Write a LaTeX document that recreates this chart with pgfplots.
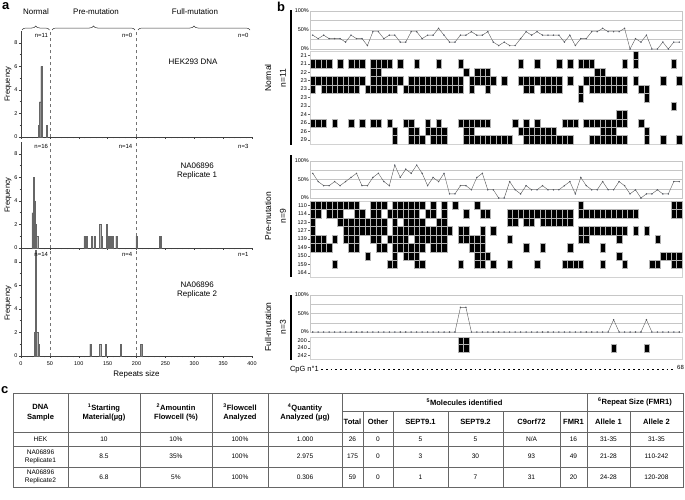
\documentclass[border=0pt]{standalone}
\usepackage{fontspec}
\setmainfont{Liberation Sans}
\usepackage{pgfplots}
\pgfplotsset{compat=1.18}
\usetikzlibrary{decorations.pathreplacing}
\newcommand{\fs}[2]{\fontsize{#1}{#2}\selectfont}
\definecolor{dotblue}{RGB}{70,110,200}
\pgfplotsset{
  histo/.style={
    scale only axis, anchor=north west,
    width=231bp, height=106bp,
    xmin=0, xmax=400, ymin=0, ymax=9,
    axis x line=bottom, axis y line=left,
    axis line style={-, black!75, line width=0.5bp},
    xtick={0,50,...,400}, minor x tick num=4,
    ytick={0,2,4,6,8}, yticklabels={0,2,4,6,8}, minor y tick num=1,
    tick align=outside, major tick length=2bp, minor tick length=1.3bp,
    tick style={black!75, line width=0.4bp},
    tick label style={font=\fs{5.5}{6}},
    yticklabel style={inner xsep=1.5bp},
    every axis y label/.style={at={(axis description cs:-0.056,0.5)}, rotate=90, anchor=center, font=\fs{7.5}{9}},
    ylabel={Frequency},
    clip=false,
  },
  bars/.style={ybar, bar width=2, fill=gray!85, draw=black!60, line width=0.25bp},
  vdash/.style={dashed, black!55, line width=0.45bp},
  meth/.style={
    scale only axis, anchor=north west,
    width=372bp, xmin=-0.5, xmax=67.5, ymin=0, ymax=100,
    axis line style={gray!45, line width=0.4bp},
    xtick=\empty, ytick={0,25,50,75,100}, yticklabels={0\%,,50\%,,100\%},
    ymajorgrids, grid style={gray!45, line width=0.4bp},
    major tick length=0pt,
    tick label style={font=\fs{5.5}{6}},
    yticklabel style={inner xsep=1bp},
  },
  methline/.style={black!65, line width=0.4bp, mark=*, mark size=0.5bp, mark options={draw=none, fill=dotblue}},
  heat/.style={
    scale only axis, anchor=north west,
    width=372bp, xmin=-0.5, xmax=67.5, y dir=reverse,
    axis line style={gray!35, line width=0.4bp},
    xtick=\empty, ytick pos=left,
    tick align=outside, major tick length=2bp, tick style={black!60, line width=0.3bp},
    tick label style={font=\fs{5.5}{6}},
    yticklabel style={inner xsep=1bp},
  },
  cell/.style={only marks, mark=square*, mark size=2.735bp, mark options={fill=black, draw=gray!60, line width=0.15bp, yscale=#1}},
}
\begin{document}
\begin{tikzpicture}
\useasboundingbox (0,0) rectangle (685bp,-500bp);

% ---------------- panel a ----------------
\begin{axis}[histo, at={(21bp,-31bp)}, xticklabels={}]
\addplot[vdash] coordinates {(50,0) (50,9)};
\addplot[vdash] coordinates {(200,0) (200,9)};
\addplot[bars] coordinates {(31,1) (33,3) (35,6) (44.5,1)};
\node[anchor=north east, font=\fs{6}{7}, inner sep=0] at (axis cs:47,8.85) {n=11};
\node[anchor=north east, font=\fs{6}{7}, inner sep=0] at (axis cs:193,8.85) {n=0};
\node[anchor=north east, font=\fs{6}{7}, inner sep=0] at (axis cs:394,8.85) {n=0};
\node[font=\fs{8}{9.5}] at (axis cs:298,6.4) {HEK293 DNA};
\end{axis}

\begin{axis}[histo, at={(21bp,-142bp)}, xticklabels={}]
\addplot[vdash] coordinates {(50,0) (50,9)};
\addplot[vdash] coordinates {(200,0) (200,9)};
\addplot[bars] coordinates {(20,3) (22,6) (24,4) (26,2) (28,1)};
\addplot[bars] coordinates {(110,1) (114,1) (123,1) (127,1) (137,2) (140,1) (149,2) (152,1) (155,1) (158,1) (165,1)};
\addplot[bars] coordinates {(200,1) (240,1) (242,1)};
\node[anchor=north east, font=\fs{6}{7}, inner sep=0] at (axis cs:47,8.85) {n=16};
\node[anchor=north east, font=\fs{6}{7}, inner sep=0] at (axis cs:193,8.85) {n=14};
\node[anchor=north east, font=\fs{6}{7}, inner sep=0] at (axis cs:394,8.85) {n=3};
\node[font=\fs{8}{9.5}, align=center] at (axis cs:305,6.55) {NA06896\\Replicate 1};
\end{axis}

\begin{axis}[histo, at={(21bp,-250bp)},
  xticklabels={0,50,100,150,200,250,300,350,400},
  xlabel={Repeats size},
  every axis x label/.style={at={(axis description cs:0.5,-0.17)}, anchor=center, font=\fs{8}{9}}]
\addplot[vdash] coordinates {(50,0) (50,9)};
\addplot[vdash] coordinates {(200,0) (200,9)};
\addplot[bars] coordinates {(24,2) (26,9) (28,2) (31,1)};
\addplot[bars] coordinates {(120,1) (137,1) (147,1) (173,1)};
\addplot[bars] coordinates {(208,1)};
\node[anchor=north east, font=\fs{6}{7}, inner sep=0] at (axis cs:47,8.85) {n=14};
\node[anchor=north east, font=\fs{6}{7}, inner sep=0] at (axis cs:193,8.85) {n=4};
\node[anchor=north east, font=\fs{6}{7}, inner sep=0] at (axis cs:394,8.85) {n=1};
\node[font=\fs{8}{9.5}, align=center] at (axis cs:305,5.6) {NA06896\\Replicate 2};
\end{axis}

% braces and headers
\draw[decorate, decoration={brace, amplitude=4bp}, black!80, line width=0.5bp] (22bp,-30bp) -- (49.5bp,-30bp);
\draw[decorate, decoration={brace, amplitude=4bp}, black!80, line width=0.5bp] (52bp,-30bp) -- (135bp,-30bp);
\draw[decorate, decoration={brace, amplitude=4bp}, black!80, line width=0.5bp] (138bp,-30bp) -- (250bp,-30bp);

% ---------------- panel b ----------------
\begin{axis}[meth, at={(310bp,-11bp)}, height=38bp]
\addplot[methline] coordinates {(0,36.4)(1,27.3)(2,36.4)(3,27.3)(4,27.3)(5,27.3)(6,18.2)(7,36.4)(8,27.3)(9,27.3)(10,9.1)(11,45.5)(12,45.5)(13,27.3)(14,36.4)(15,36.4)(16,18.2)(17,18.2)(18,45.5)(19,45.5)(20,27.3)(21,36.4)(22,36.4)(23,54.5)(24,36.4)(25,18.2)(26,18.2)(27,36.4)(28,36.4)(29,45.5)(30,36.4)(31,36.4)(32,45.5)(33,18.2)(34,9.1)(35,18.2)(36,9.1)(37,9.1)(38,27.3)(39,45.5)(40,36.4)(41,45.5)(42,36.4)(43,36.4)(44,36.4)(45,36.4)(46,18.2)(47,36.4)(48,9.1)(49,27.3)(50,27.3)(51,45.5)(52,45.5)(53,54.5)(54,45.5)(55,45.5)(56,45.5)(57,54.5)(58,0)(59,27.3)(60,18.2)(61,36.4)(62,0)(63,0)(64,18.2)(65,0)(66,18.2)(67,18.2)};
\end{axis}

\begin{axis}[heat, at={(310bp,-51bp)}, height=93bp, ymin=-0.5, ymax=10.5,
  ytick={0,...,10}, yticklabels={21,21,22,23,23,23,23,24,26,26,29}]
\addplot[cell=1.545] coordinates {
(59,0)
(0,1)(1,1)(2,1)(3,1)(5,1)(7,1)(8,1)(9,1)(11,1)(12,1)(13,1)(14,1)(16,1)(19,1)(23,1)(27,1)(38,1)(41,1)(45,1)(47,1)(49,1)(50,1)(51,1)(57,1)(59,1)(66,1)
(11,2)(12,2)(28,2)(30,2)(31,2)(32,2)(52,2)(53,2)
(0,3)(1,3)(2,3)(3,3)(4,3)(5,3)(6,3)(7,3)(8,3)(9,3)(11,3)(12,3)(13,3)(14,3)(15,3)(16,3)(18,3)(19,3)(20,3)(21,3)(22,3)(23,3)(24,3)(25,3)(26,3)(27,3)(29,3)(30,3)(31,3)(32,3)(33,3)(35,3)(38,3)(39,3)(40,3)(41,3)(42,3)(43,3)(44,3)(45,3)(47,3)(50,3)(51,3)(52,3)(53,3)(54,3)(55,3)(56,3)(57,3)(59,3)(64,3)(67,3)
(0,4)(2,4)(3,4)(4,4)(5,4)(6,4)(7,4)(8,4)(10,4)(11,4)(12,4)(13,4)(14,4)(15,4)(17,4)(18,4)(19,4)(20,4)(21,4)(22,4)(23,4)(24,4)(25,4)(26,4)(27,4)(29,4)(32,4)(39,4)(40,4)(42,4)(43,4)(44,4)(45,4)(49,4)(51,4)(52,4)(53,4)(54,4)(55,4)(56,4)(57,4)(60,4)(61,4)
(49,5)(61,5)
(66,6)
(56,7)(57,7)
(0,8)(1,8)(2,8)(4,8)(7,8)(9,8)(11,8)(12,8)(14,8)(17,8)(18,8)(21,8)(23,8)(27,8)(28,8)(29,8)(30,8)(31,8)(32,8)(37,8)(39,8)(41,8)(46,8)(47,8)(48,8)(50,8)(51,8)(52,8)(53,8)(54,8)(55,8)(56,8)(57,8)(60,8)
(15,9)(18,9)(19,9)(21,9)(22,9)(23,9)(24,9)(28,9)(29,9)(38,9)(39,9)(40,9)(41,9)(42,9)(43,9)(44,9)(53,9)(54,9)(55,9)(61,9)
(15,10)(18,10)(19,10)(20,10)(22,10)(23,10)(24,10)(28,10)(29,10)(30,10)(31,10)(32,10)(33,10)(34,10)(35,10)(36,10)(39,10)(40,10)(41,10)(42,10)(43,10)(44,10)(45,10)(46,10)(47,10)(51,10)(52,10)(53,10)(54,10)(55,10)(56,10)(57,10)(61,10)(64,10)(67,10)
};
\end{axis}

\begin{axis}[meth, at={(310bp,-161bp)}, height=37bp]
\addplot[methline] coordinates {(0,66.7)(1,44.4)(2,33.3)(3,33.3)(4,44.4)(5,33.3)(6,44.4)(7,55.6)(8,66.7)(9,33.3)(10,33.3)(11,55.6)(12,66.7)(13,44.4)(14,33.3)(15,88.9)(16,55.6)(17,77.8)(18,66.7)(19,88.9)(20,66.7)(21,33.3)(22,55.6)(23,44.4)(24,66.7)(25,11.1)(26,11.1)(27,33.3)(28,33.3)(29,22.2)(30,55.6)(31,66.7)(32,22.2)(33,22.2)(34,0)(35,0)(36,44.4)(37,22.2)(38,11.1)(39,33.3)(40,22.2)(41,22.2)(42,33.3)(43,22.2)(44,22.2)(45,22.2)(46,33.3)(47,44.4)(48,11.1)(49,55.6)(50,33.3)(51,22.2)(52,22.2)(53,44.4)(54,22.2)(55,22.2)(56,44.4)(57,33.3)(58,11.1)(59,22.2)(60,0)(61,11.1)(62,11.1)(63,22.2)(64,11.1)(65,11.1)(66,44.4)(67,44.4)};
\end{axis}

\begin{axis}[heat, at={(310bp,-201bp)}, height=76bp, ymin=-0.5, ymax=8.5,
  ytick={0,...,8}, yticklabels={110,114,123,127,139,149,150,159,164}]
\addplot[cell=1.544] coordinates {
(0,0)(1,0)(2,0)(3,0)(4,0)(5,0)(6,0)(7,0)(8,0)(11,0)(12,0)(13,0)(15,0)(16,0)(17,0)(18,0)(19,0)(20,0)(22,0)(24,0)(26,0)(30,0)(49,0)(66,0)(67,0)
(0,1)(1,1)(3,1)(4,1)(5,1)(8,1)(9,1)(11,1)(12,1)(14,1)(15,1)(16,1)(17,1)(18,1)(19,1)(21,1)(22,1)(24,1)(28,1)(31,1)(32,1)(36,1)(37,1)(38,1)(39,1)(40,1)(41,1)(42,1)(43,1)(44,1)(45,1)(46,1)(47,1)(49,1)(50,1)(51,1)(52,1)(53,1)(54,1)(55,1)(56,1)(57,1)(58,1)(59,1)(66,1)(67,1)
(0,2)(5,2)(6,2)(7,2)(8,2)(9,2)(10,2)(11,2)(12,2)(13,2)(15,2)(17,2)(18,2)(19,2)(20,2)(23,2)(24,2)(36,2)(37,2)(39,2)(40,2)(42,2)(43,2)(44,2)(45,2)(46,2)(47,2)
(0,3)(6,3)(7,3)(8,3)(9,3)(10,3)(11,3)(12,3)(13,3)(15,3)(16,3)(17,3)(18,3)(19,3)(20,3)(21,3)(22,3)(23,3)(24,3)(25,3)(27,3)(28,3)(31,3)(33,3)(49,3)(50,3)(51,3)(52,3)(53,3)(54,3)(55,3)(56,3)(57,3)(59,3)(61,3)
(0,4)(1,4)(2,4)(4,4)(6,4)(7,4)(8,4)(11,4)(12,4)(14,4)(15,4)(16,4)(17,4)(19,4)(20,4)(21,4)(22,4)(23,4)(24,4)(27,4)(28,4)(29,4)(30,4)(31,4)(36,4)(49,4)(50,4)(56,4)(63,4)
(0,5)(1,5)(2,5)(3,5)(7,5)(8,5)(12,5)(13,5)(15,5)(16,5)(17,5)(18,5)(19,5)(20,5)(22,5)(23,5)(24,5)(29,5)(30,5)(31,5)(39,5)(42,5)(47,5)(53,5)
(10,6)(15,6)(17,6)(18,6)(19,6)(30,6)(31,6)(32,6)(56,6)(64,6)(65,6)(66,6)(67,6)
(4,7)(14,7)(15,7)(19,7)(20,7)(27,7)(30,7)(31,7)(33,7)(36,7)(41,7)(46,7)(47,7)(48,7)(49,7)(53,7)(57,7)(62,7)(63,7)(66,7)(67,7)
};
\end{axis}

\begin{axis}[meth, at={(310bp,-295bp)}, height=37bp]
\addplot[methline] coordinates {(0,0)(1,0)(2,0)(3,0)(4,0)(5,0)(6,0)(7,0)(8,0)(9,0)(10,0)(11,0)(12,0)(13,0)(14,0)(15,0)(16,0)(17,0)(18,0)(19,0)(20,0)(21,0)(22,0)(23,0)(24,0)(25,0)(26,0)(27,66.7)(28,66.7)(29,0)(30,0)(31,0)(32,0)(33,0)(34,0)(35,0)(36,0)(37,0)(38,0)(39,0)(40,0)(41,0)(42,0)(43,0)(44,0)(45,0)(46,0)(47,0)(48,0)(49,0)(50,0)(51,0)(52,0)(53,0)(54,0)(55,33.3)(56,0)(57,0)(58,0)(59,0)(60,0)(61,33.3)(62,0)(63,0)(64,0)(65,0)(66,0)(67,0)};
\end{axis}

\begin{axis}[heat, at={(310bp,-337bp)}, height=22bp, ymin=-0.5, ymax=2.5,
  ytick={0,1,2}, yticklabels={200,240,242}]
\addplot[cell=1.341] coordinates {(27,0)(28,0)(27,1)(28,1)(55,1)(61,1)};
\end{axis}

\begin{scope}[x=1bp, y=-1bp]
% panel labels
\node[font=\fs{13}{14}\bfseries, anchor=north west, inner sep=0] at (2,2) {a};
\node[font=\fs{13}{14}\bfseries, anchor=north west, inner sep=0] at (277,2) {b};
\node[font=\fs{13}{14}\bfseries, anchor=north west, inner sep=0] at (1,386) {c};
% panel a headers
\node[font=\fs{8}{9}] at (36,12) {Normal};
\node[font=\fs{8}{9}] at (96,12) {Pre-mutation};
\node[font=\fs{8}{9}] at (195,12) {Full-mutation};
% panel b group labels
\node[rotate=90, font=\fs{8.5}{10}] at (268,78) {Normal};
\node[rotate=90, font=\fs{8.5}{10}] at (283,78) {n=11};
\node[rotate=90, font=\fs{8.5}{10}] at (268,216) {Pre-mutation};
\node[rotate=90, font=\fs{8.5}{10}] at (283,216) {n=9};
\node[rotate=90, font=\fs{8.5}{10}] at (268,327) {Full-mutation};
\node[rotate=90, font=\fs{8.5}{10}] at (283,327) {n=3};
\draw[line width=2.5bp] (291,10) -- (291,145);
\draw[line width=2.5bp] (291,155) -- (291,277);
\draw[line width=2.5bp] (291,295) -- (291,360);
% CpG axis
\node[anchor=east, font=\fs{7.5}{9}, inner sep=0] at (319,370) {CpG n°1};
\draw[line width=1.7bp, dash pattern=on 1.7bp off 3.1bp] (321,369.5) -- (676,369.5);
\node[anchor=west, font=\fs{6}{7}, inner sep=0] at (677,367.5) {68};

% ---------------- panel c: table ----------------
\begin{scope}[black!60, line width=0.8bp]
\draw (13,393) rectangle (683,487);
\foreach \xx in {68,140,212,268,342,587} \draw (\xx,393) -- (\xx,487);
\foreach \xx in {363,393,448,503,560,630} \draw (\xx,411) -- (\xx,487);
\draw (342,411) -- (683,411);
\foreach \yy in {432,446,467} \draw (13,\yy) -- (683,\yy);
\end{scope}
\begin{scope}[every node/.style={align=center, inner sep=0, font=\fs{7.6}{9.5}\bfseries}]
\node at (40.5,412.5) {DNA\\Sample};
\node at (104,412.5) {\textsuperscript{1}Starting\\Material(µg)};
\node at (176,412.5) {\textsuperscript{2}Amountin\\Flowcell (\%)};
\node at (240,412.5) {\textsuperscript{3}Flowcell\\Analyzed};
\node at (305,412.5) {\textsuperscript{4}Quantity\\Analyzed (µg)};
\node at (464.5,402) {\textsuperscript{5}Molecules identified};
\node at (635,402) {\textsuperscript{6}Repeat Size (FMR1)};
\node at (352.5,421.5) {Total};
\node at (378,421.5) {Other};
\node at (420.5,421.5) {SEPT9.1};
\node at (475.5,421.5) {SEPT9.2};
\node at (531.5,421.5) {C9orf72};
\node at (573.5,421.5) {FMR1};
\node at (608.5,421.5) {Allele 1};
\node at (656.5,421.5) {Allele 2};
\end{scope}
\begin{scope}[every node/.style={align=center, inner sep=0, font=\fs{6.6}{8}}]
\node at (40.5,439) {HEK};
\node at (104,439) {10};
\node at (176,439) {10\%};
\node at (240,439) {100\%};
\node at (305,439) {1.000};
\node at (352.5,439) {26};
\node at (378,439) {0};
\node at (420.5,439) {5};
\node at (475.5,439) {5};
\node at (531.5,439) {N/A};
\node at (573.5,439) {16};
\node at (608.5,439) {31-35};
\node at (656.5,439) {31-35};
\node at (40.5,456.5) {NA06896\\Replicate1};
\node at (104,456.5) {8.5};
\node at (176,456.5) {35\%};
\node at (240,456.5) {100\%};
\node at (305,456.5) {2.975};
\node at (352.5,456.5) {175};
\node at (378,456.5) {0};
\node at (420.5,456.5) {3};
\node at (475.5,456.5) {30};
\node at (531.5,456.5) {93};
\node at (573.5,456.5) {49};
\node at (608.5,456.5) {21-28};
\node at (656.5,456.5) {110-242};
\node at (40.5,477) {NA06896\\Replicate2};
\node at (104,477) {6.8};
\node at (176,477) {5\%};
\node at (240,477) {100\%};
\node at (305,477) {0.306};
\node at (352.5,477) {59};
\node at (378,477) {0};
\node at (420.5,477) {1};
\node at (475.5,477) {7};
\node at (531.5,477) {31};
\node at (573.5,477) {20};
\node at (608.5,477) {24-28};
\node at (656.5,477) {120-208};
\end{scope}
\end{scope}
\end{tikzpicture}
\end{document}
